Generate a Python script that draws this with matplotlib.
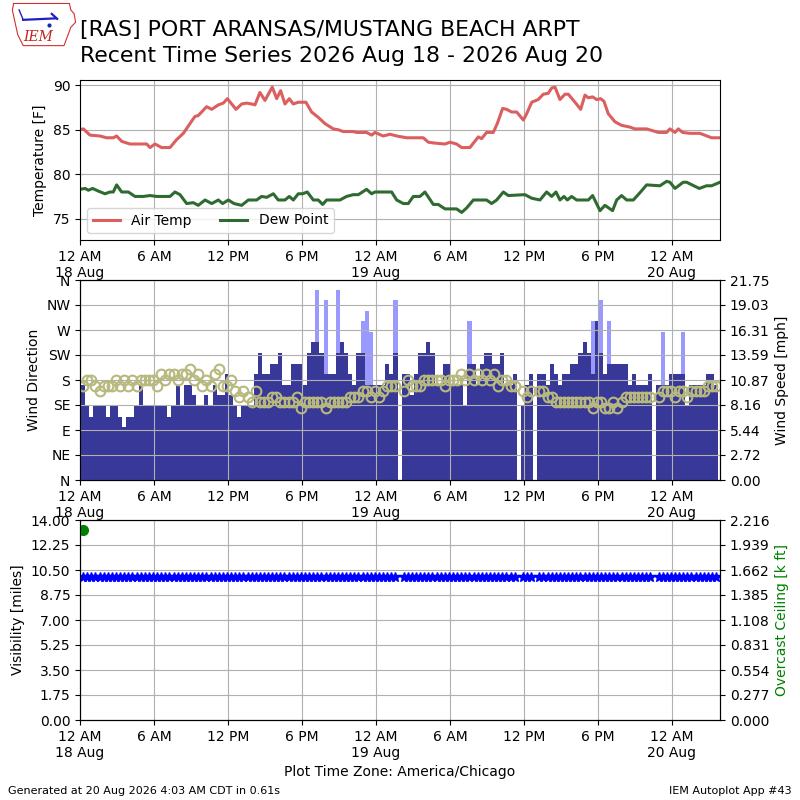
import numpy as np
import pandas as pd
import matplotlib
matplotlib.use("Agg")
import matplotlib.pyplot as plt
import matplotlib.dates as mdates
from matplotlib.ticker import FuncFormatter, FormatStrFormatter

# observations every 20 minutes (:15, :35, :55), starting 18 Aug 00:15
obs_start = "2026-08-18 00:15"
n_obs = 155
missing = [77, 106, 110, 139]

# wind speed [kt]
sknt = [9, 7, 6, 7, 7, 7, 6, 7, 7, 6,
        5, 6, 6, 7, 9, 7, 7, 7, 7, 7,
        7, 6, 7, 9, 7, 9, 9, 8, 7, 7,
        8, 7, 9, 8, 8, 10, 8, 7, 6, 7,
        7, 7, 10, 12, 10, 10, 11, 11, 12, 9,
        9, 11, 11, 11, 9, 12, 13, 13, 12, 10,
        10, 10, 12, 13, 12, 10, 9, 12, 12, 9,
        9, 9, 9, 9, 11, 10, 12, np.nan, 10, 10,
        8, 10, 12, 12, 13, 12, 9, 9, 11, 11,
        9, 9, 9, 7, 11, 11, 9, 11, 12, 12,
        11, 11, 12, 9, 9, 10, np.nan, 7, 9, 10,
        np.nan, 10, 10, 9, 11, 10, 9, 10, 10, 11,
        11, 12, 13, 12, 10, 15, 12, 10, 11, 11,
        11, 11, 11, 9, 10, 9, 9, 9, 10, np.nan,
        9, 9, 9, 10, 10, 10, 10, 7, 9, 9,
        9, 9, 10, 10, 9]

# gusts [kt] (obs index -> gust)
gusts = {57: 18, 59: 17, 62: 18, 68: 15, 69: 16, 70: 14, 76: 17,
         94: 15, 124: 15, 126: 17, 128: 15, 141: 14, 146: 14}

# wind direction [deg]
drct = [170, 180, 180, 170, 160, 170, 170, 170, 180, 170,
        180, 170, 180, 170, 180, 180, 180, 180, 170, 190,
        180, 190, 190, 180, 190, 190, 200, 180, 190, 170,
        180, 170, 190, 200, 170, 170, 180, 160, 150, 160,
        150, 140, 160, 140, 140, 140, 150, 150, 140, 140,
        140, 140, 150, 130, 140, 140, 140, 140, 140, 130,
        140, 140, 140, 140, 140, 150, 150, 150, 160, 160,
        150, 160, 150, 160, 170, 170, 170, np.nan, 160, 180,
        170, 170, 170, 180, 180, 180, 180, 180, 170, 180,
        180, 180, 190, 180, 190, 180, 190, 180, 190, 180,
        190, 170, 180, 180, 170, 170, np.nan, 160, 150, 160,
        np.nan, 160, 160, 150, 150, 140, 140, 140, 140, 140,
        140, 140, 140, 140, 130, 140, 140, 130, 130, 140,
        130, 140, 150, 150, 150, 150, 150, 150, 150, np.nan,
        150, 160, 160, 160, 150, 160, 160, 150, 160, 160,
        160, 160, 170, 170, 170]

# visibility [miles], 10 at every report
vsby_value = 10.0
# overcast ceiling [k ft], only the first report
ceil_index = 0
ceil_value = 2.11

# temperature / dew point readings (hours after 18 Aug 00:00, degF)
tmpf_hours = [0.0, 0.27, 0.81, 1.62, 2.16, 2.70, 2.97, 3.38, 4.05, 5.41, 5.68, 6.08,
              6.62, 7.30, 7.84, 8.38, 8.92, 9.32, 9.59, 10.27, 10.68, 11.22, 11.62,
              11.95, 12.30, 12.65, 13.11, 13.51, 13.92, 14.19, 14.59, 15.0, 15.59,
              15.95, 16.27, 16.62, 16.97, 17.30, 17.70, 18.32, 18.78, 19.32, 19.86,
              20.54, 20.95, 21.35, 22.16, 22.43, 23.24, 23.65, 23.92, 24.59, 25.14,
              25.68, 26.49, 27.84, 28.25, 28.78, 29.6, 30.0, 30.54, 30.95, 31.62,
              32.3, 32.57, 32.97, 33.51, 33.84, 34.27, 34.6, 35.0, 35.41, 35.95,
              36.22, 36.63, 37.16, 37.57, 37.97, 38.25, 38.52, 38.92, 39.33, 39.6,
              40.14, 40.6, 40.95, 41.22, 41.57, 41.9, 42.22, 42.49, 42.84, 43.38,
              43.92, 44.6, 45.0, 45.95, 46.9, 47.57, 47.84, 48.25, 48.52, 48.87,
              49.46, 50.27, 51.22, 51.9]
tmpf = [85.0, 85.1, 84.4, 84.3, 84.1, 84.1, 84.3, 83.7, 83.4, 83.4, 83.0, 83.4,
        83.0, 83.0, 83.9, 84.6, 85.7, 86.5, 86.6, 87.6, 87.3, 87.8, 88.0,
        88.5, 87.9, 87.3, 87.9, 88.0, 87.9, 87.8, 89.2, 88.3, 89.8,
        88.5, 89.4, 87.9, 88.5, 87.9, 88.1, 88.1, 87.0, 86.4, 85.7,
        85.1, 85.0, 84.8, 84.8, 84.7, 84.7, 84.4, 84.7, 84.3, 84.5,
        84.3, 84.1, 84.1, 83.6, 83.5, 83.4, 83.6, 83.4, 83.0, 83.0,
        84.2, 84.0, 84.7, 84.7, 85.7, 87.4, 87.3, 87.0, 87.0, 86.1,
        86.8, 88.1, 88.4, 89.0, 89.1, 89.7, 89.8, 88.4, 89.0, 89.0,
        88.1, 87.3, 88.9, 88.6, 88.7, 88.4, 88.5, 88.2, 86.8, 85.9,
        85.5, 85.3, 85.1, 85.1, 84.7, 84.7, 85.1, 84.7, 85.1, 84.7,
        84.6, 84.6, 84.1, 84.1]

dwpf_hours = [0.0, 0.41, 0.68, 1.03, 1.49, 2.03, 2.43, 2.70, 2.97, 3.38, 3.92, 4.46,
              5.14, 5.68, 6.22, 7.30, 7.70, 8.11, 8.65, 9.19, 9.59, 10.14, 10.68,
              11.22, 11.57, 12.03, 12.49, 13.11, 13.65, 14.32, 14.73, 15.14, 15.68,
              16.08, 16.62, 16.97, 17.30, 17.70, 18.05, 18.43, 18.92, 19.32, 19.68,
              20.0, 21.08, 21.62, 22.16, 22.57, 23.24, 23.65, 23.92, 25.27, 25.68,
              26.22, 26.62, 27.03, 27.57, 27.97, 28.65, 29.05, 29.6, 30.54, 30.95,
              31.35, 31.9, 32.97, 33.38, 33.79, 34.33, 34.73, 36.08, 36.63, 37.3,
              37.84, 38.25, 38.6, 38.92, 39.25, 39.52, 39.87, 40.27, 41.22, 41.57,
              42.17, 42.57, 43.19, 43.52, 43.92, 44.33, 44.87, 45.46, 45.95, 47.03,
              47.57, 47.84, 48.25, 48.92, 49.19, 50.22, 50.81, 51.22, 51.9]
dwpf = [78.3, 78.4, 78.2, 78.4, 78.1, 77.8, 78.0, 78.0, 78.8, 78.0, 78.0, 77.5,
        77.5, 77.6, 77.5, 77.5, 78.0, 77.7, 76.7, 76.8, 76.5, 77.1, 76.7,
        77.1, 76.7, 77.1, 76.7, 76.5, 77.1, 77.1, 77.5, 77.4, 77.8,
        77.1, 77.1, 77.5, 77.1, 77.8, 77.8, 78.0, 77.1, 77.1, 76.6,
        77.1, 77.1, 77.5, 77.7, 77.7, 78.3, 77.8, 78.0, 78.0, 77.1,
        76.7, 76.7, 77.5, 77.5, 78.0, 76.6, 76.6, 76.1, 76.1, 75.7,
        76.2, 77.1, 77.1, 76.7, 77.1, 78.0, 77.6, 77.7, 77.3, 77.1,
        78.0, 77.5, 78.0, 77.1, 77.5, 77.1, 77.5, 77.1, 77.1, 77.6,
        75.9, 76.5, 75.9, 77.1, 77.6, 77.1, 77.1, 78.0, 78.8, 78.7,
        79.2, 79.1, 78.4, 79.1, 79.1, 78.4, 78.7, 78.7, 79.1]

day0 = pd.Timestamp("2026-08-18 00:00")
valid = pd.date_range(obs_start, periods=n_obs, freq="20min")
sknt = np.array(sknt, dtype=float)
drct = np.array(drct, dtype=float)
gust = np.full(n_obs, np.nan)
for k, v in gusts.items():
    gust[k] = v
vsby = np.full(n_obs, vsby_value)
vsby[missing] = np.nan
ceil = np.full(n_obs, np.nan)
ceil[ceil_index] = ceil_value

smph = sknt * 1.15078
gmph = gust * 1.15078
tmpf_time = day0 + pd.to_timedelta(tmpf_hours, unit="h")
dwpf_time = day0 + pd.to_timedelta(dwpf_hours, unit="h")

xmin = day0
xmax = pd.Timestamp("2026-08-20 03:54")
width = 1.0 / 72.0  # 20 minutes in days


def fmt_time(x, pos=None):
    dt = mdates.num2date(x)
    if dt.hour == 0:
        return "12 AM\n%d %s" % (dt.day, dt.strftime("%b"))
    if dt.hour == 12:
        return "12 PM"
    return "%d %s" % (dt.hour % 12, "AM" if dt.hour < 12 else "PM")


def setup_time(ax):
    ax.xaxis.set_major_locator(mdates.HourLocator(byhour=[0, 6, 12, 18]))
    ax.xaxis.set_major_formatter(FuncFormatter(fmt_time))
    ax.set_xlim(xmin, xmax)


fig = plt.figure(figsize=(8, 8), dpi=100)

# ---- temperature panel
ax1 = fig.add_axes([0.1, 0.7, 0.8, 0.2])
ax1.plot(tmpf_time, tmpf, color="#dc5f5f", lw=2.2, label="Air Temp")
ax1.plot(dwpf_time, dwpf, color="#2f6b30", lw=2.2, label="Dew Point")
ax1.set_ylim(72.6, 90.6)
ax1.set_ylabel("Temperature [F]")
ax1.grid(True)
ax1.legend(loc="lower left", ncol=2)
setup_time(ax1)

# ---- wind panel
ax2 = fig.add_axes([0.1, 0.4, 0.8, 0.25])
ax2b = ax2.twinx()
ax2b.bar(valid, gmph, width=width, color="#9999ff", align="center")
ax2b.bar(valid, smph, width=width, color="#383898", align="center")
ax2b.set_ylim(0, np.nanmax(gmph) * 1.05)
ax2b.set_yticks(np.linspace(0, np.nanmax(gmph) * 1.05, 9))
ax2b.yaxis.set_major_formatter(FormatStrFormatter("%.2f"))
ax2b.set_ylabel("Wind Speed [mph]")
ax2.plot(valid, drct, "o", mfc="none", mec="#b8b97e", mew=1.5, ms=7)
ax2.set_ylim(0, 360)
ax2.set_yticks(np.arange(0, 361, 45))
ax2.set_yticklabels(["N", "NE", "E", "SE", "S", "SW", "W", "NW", "N"])
ax2.set_ylabel("Wind Direction")
ax2.set_zorder(ax2b.get_zorder() + 1)
ax2.patch.set_visible(False)
ax2.grid(True)
setup_time(ax2)

# ---- visibility / ceiling panel
ax3 = fig.add_axes([0.1, 0.1, 0.8, 0.25])
ax3.plot(valid, vsby, "*", color="b", ms=7)
ax3.set_ylim(0, 14)
ax3.set_yticks(np.linspace(0, 14, 9))
ax3.yaxis.set_major_formatter(FormatStrFormatter("%.2f"))
ax3.set_ylabel("Visibility [miles]")
ax3.grid(True)
ax3b = ax3.twinx()
ax3b.plot(valid, ceil, "o", color="g", ms=7)
ax3b.set_ylim(0, ceil_value * 1.05)
ax3b.set_yticks(np.linspace(0, ceil_value * 1.05, 9))
ax3b.yaxis.set_major_formatter(FormatStrFormatter("%.3f"))
ax3b.set_ylabel("Overcast Ceiling [k ft]", color="g")
setup_time(ax3)
ax3.set_xlabel("Plot Time Zone: America/Chicago")

# ---- titles
fig.text(0.1, 0.962, "[RAS] PORT ARANSAS/MUSTANG BEACH ARPT", fontsize=15.8, va="center")
fig.text(0.1, 0.93, "Recent Time Series 2026 Aug 18 - 2026 Aug 20", fontsize=15.8, va="center")
fig.text(0.01, 0.008, "Generated at 20 Aug 2026 4:03 AM CDT in 0.61s", fontsize=8)
fig.text(0.99, 0.008, "IEM Autoplot App #43", fontsize=8, ha="right")

# ---- logo (rough state outline + letters)
lax = fig.add_axes([0.012, 0.938, 0.085, 0.062])
lax.plot([0.06, 0.88, 0.9, 0.95, 0.97, 0.9, 0.86, 0.8, 0.2, 0.12, 0.08, 0.04, 0.06],
         [0.93, 0.93, 0.8, 0.72, 0.55, 0.45, 0.3, 0.08, 0.08, 0.3, 0.55, 0.8, 0.93],
         color="#d03030", lw=0.8)
lax.plot([0.2, 0.68], [0.6, 0.63], color="#2020c0", lw=1.6)
lax.plot([0.2, 0.14], [0.6, 0.8], color="#2020c0", lw=1.0)
lax.plot([0.62, 0.7], [0.72, 0.62], color="#2020c0", lw=1.6)
lax.plot([0.58], [0.5], "o", color="#2020c0", ms=2)
lax.text(0.42, 0.25, "IEM", color="#c02020", fontsize=10, family="serif",
         style="italic", ha="center", va="center")
lax.set_xlim(0, 1)
lax.set_ylim(0, 1)
lax.axis("off")

fig.savefig("out.png", dpi=100)
